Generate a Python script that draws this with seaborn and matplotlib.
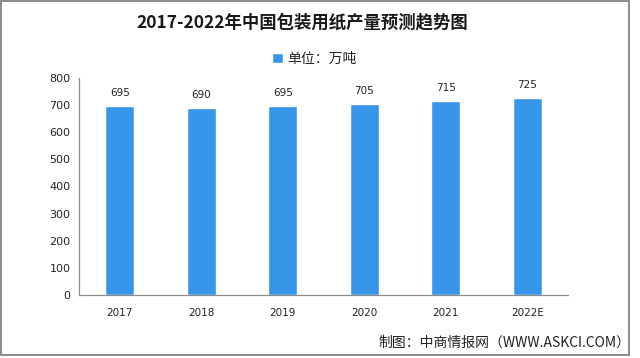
import matplotlib
matplotlib.use('Agg')
import matplotlib.pyplot as plt
import seaborn as sns
import pandas as pd
from matplotlib.patches import Rectangle

years  = ['2017', '2018', '2019', '2020', '2021', '2022E']
output = [695, 690, 695, 705, 715, 725]
y_ticks = [0, 100, 200, 300, 400, 500, 600, 700, 800]

title     = '2017-2022年中国包装用纸产量预测趋势图'
unit_lbl  = '单位：万吨'
source    = '制图：中商情报网（WWW.ASKCI.COM）'

BAR_COLOR  = '#3896ea'
AXIS_COLOR = '#8c8c8c'

sns.set_style('white')
plt.rcParams['font.family'] = ['Noto Sans CJK SC', 'DejaVu Sans']

df = pd.DataFrame({'year': years, 'value': output})

fig = plt.figure(figsize=(6.4, 3.58), dpi=100)
ax = fig.add_axes([79 / 640, 63 / 358, 489 / 640, 217 / 358])

sns.barplot(data=df, x='year', y='value', color=BAR_COLOR, width=0.36,
            saturation=1, label=unit_lbl, ax=ax)
handles, labels = ax.get_legend_handles_labels()
if ax.get_legend() is not None:
    ax.get_legend().remove()

# value labels above bars
for i, v in enumerate(output):
    ax.text(i, v + 30, str(v), ha='center', va='bottom', fontsize=7.5,
            family='DejaVu Sans', color='#222222')

ax.set_xlim(-0.5, len(years) - 0.5)
ax.set_ylim(0, 800)
ax.set_yticks(y_ticks)
ax.set_yticklabels([str(t) for t in y_ticks], family='DejaVu Sans', fontsize=8, color='#222222')
ax.set_xticks(range(len(years)))
ax.set_xticklabels(years, family='DejaVu Sans', fontsize=7.5, color='#222222')
ax.set_xticks([i - 0.5 for i in range(len(years) + 1)], minor=True)
ax.tick_params(axis='x', which='major', length=0, pad=9)
ax.tick_params(axis='x', which='minor', length=4, width=0.8, color=AXIS_COLOR, direction='out')
ax.tick_params(axis='y', length=4, width=0.8, color=AXIS_COLOR, direction='out', pad=2)
ax.set_xlabel('')
ax.set_ylabel('')

for side in ['top', 'right']:
    ax.spines[side].set_visible(False)
for side in ['left', 'bottom']:
    ax.spines[side].set_color(AXIS_COLOR)
    ax.spines[side].set_linewidth(0.9)

# title, legend and source
fig.text(302 / 640, 1 - 22 / 358, title, ha='center', va='center',
         fontsize=12.5, fontweight='bold', color='#1a1a1a')

fig.legend(handles, labels, loc='center', bbox_to_anchor=(314 / 640, 1 - 59 / 358),
           frameon=False, fontsize=10, handlelength=0.8, handleheight=0.8,
           handletextpad=0.3, borderpad=0)

fig.text(630 / 640, 1 - 343 / 358, source, ha='right', va='center',
         fontsize=10, color='#222222')

# outer frame
fig.patches.append(Rectangle((1 / 640, 3 / 358), 628 / 640, 354 / 358,
                             transform=fig.transFigure, fill=False,
                             edgecolor='#8a8a8a', linewidth=1.4))

fig.savefig('out.png', dpi=100)
